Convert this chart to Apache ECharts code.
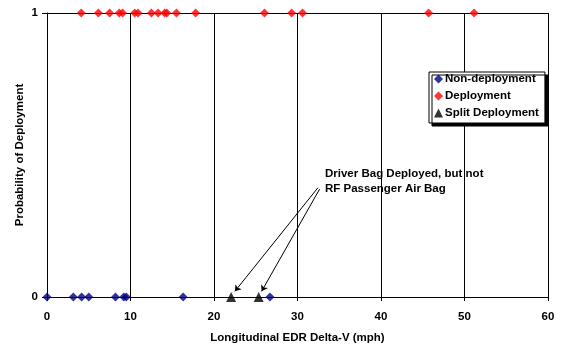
<!DOCTYPE html>
<html><head><meta charset="utf-8">
<script src="https://cdn.jsdelivr.net/npm/echarts@6/dist/echarts.min.js"></script>
<style>html,body{margin:0;padding:0;background:#fff}#c{width:562px;height:345px}</style>
</head><body><div id="c"></div>
<script>
var nonDeployX = [0, 3.15, 4.15, 5.0, 8.2, 9.2, 9.5, 16.3, 26.7];
var deployX = [4.1, 6.15, 7.5, 8.65, 9.05, 10.5, 10.9, 12.5, 13.3, 14.1, 14.35, 15.5, 17.8, 26.05, 29.3, 30.6, 45.7, 51.15];
var splitX = [22.05, 25.35];
var arrowStart = [[32.45, 0.385], [32.65, 0.38]];
var arrowEnd = [[22.5, 0.02], [25.7, 0.02]];
var noteText = 'Driver Bag Deployed, but not\nRF Passenger Air Bag';
var xTicks = [0, 10, 20, 30, 40, 50, 60];

var font = 'Liberation Sans, Arial, sans-serif';
var fs = 11.5;
var chart = echarts.init(document.getElementById('c'));
chart.setOption({
  animation: false,
  grid: {left: 47, right: 14, top: 13, bottom: 48, outerBoundsMode: 'none', containLabel: false},
  xAxis: {
    type: 'value', min: 0, max: 60, interval: 10,
    name: 'Longitudinal EDR Delta-V (mph)', nameLocation: 'middle', nameGap: 35, nameMoveOverlap: false,
    nameTextStyle: {fontFamily: font, fontWeight: 'bold', fontSize: fs, color: '#000'},
    axisLine: {lineStyle: {color: '#000', width: 1}},
    axisTick: {show: true, length: 4, lineStyle: {color: '#000'}},
    axisLabel: {fontFamily: font, fontWeight: 'bold', fontSize: fs, color: '#000', margin: 14},
    splitLine: {show: true, lineStyle: {color: '#000', width: 1}}
  },
  yAxis: {
    type: 'value', min: 0, max: 1, interval: 1,
    name: 'Probability of Deployment', nameLocation: 'middle', nameGap: 21, nameMoveOverlap: false,
    nameTextStyle: {fontFamily: font, fontWeight: 'bold', fontSize: fs, color: '#000'},
    axisLine: {show: true, lineStyle: {color: '#000', width: 1}},
    axisTick: {show: true, length: 5, lineStyle: {color: '#000'}},
    axisLabel: {fontFamily: font, fontWeight: 'bold', fontSize: fs, color: '#000', margin: 9},
    splitLine: {show: true, lineStyle: {color: '#000', width: 1}}
  },
  legend: {
    orient: 'vertical', left: 429, top: 72, width: 115,
    itemWidth: 9, itemHeight: 9, itemGap: 5,
    padding: [1, 6, 4, 5],
    backgroundColor: '#fff', borderColor: '#000', borderWidth: 1,
    shadowColor: '#000', shadowOffsetX: 3, shadowOffsetY: 3, shadowBlur: 0,
    textStyle: {fontFamily: font, fontWeight: 'bold', fontSize: fs, color: '#000', padding: [0, 0, 0, -3]},
    data: [
      {name: 'Non-deployment', icon: 'diamond'},
      {name: 'Deployment', icon: 'diamond'},
      {name: 'Split Deployment', icon: 'triangle'}
    ]
  },
  graphic: [{
    type: 'text', left: 325, top: 166,
    style: {text: noteText, fontFamily: font, fontWeight: 'bold', fontSize: fs, fill: '#000', lineHeight: 15}
  }],
  series: [
    {name: 'Non-deployment', type: 'scatter', symbol: 'diamond', symbolSize: 9, clip: false,
     itemStyle: {color: '#000080'}, data: nonDeployX.map(function (x) { return [x, 0]; })},
    {name: 'Deployment', type: 'scatter', symbol: 'diamond', symbolSize: 9, clip: false,
     itemStyle: {color: '#ff0000'}, data: deployX.map(function (x) { return [x, 1]; })},
    {name: 'Split Deployment', type: 'scatter', symbol: 'triangle', symbolSize: 10, clip: false,
     itemStyle: {color: '#000'}, data: splitX.map(function (x) { return [x, 0]; }),
     markLine: {
       silent: true, symbol: ['none', 'arrow'], symbolSize: 6,
       lineStyle: {color: '#000', width: 1, type: 'solid'},
       label: {show: false},
       data: arrowStart.map(function (s, i) { return [{coord: s}, {coord: arrowEnd[i]}]; })
     }}
  ]
});
</script></body></html>
